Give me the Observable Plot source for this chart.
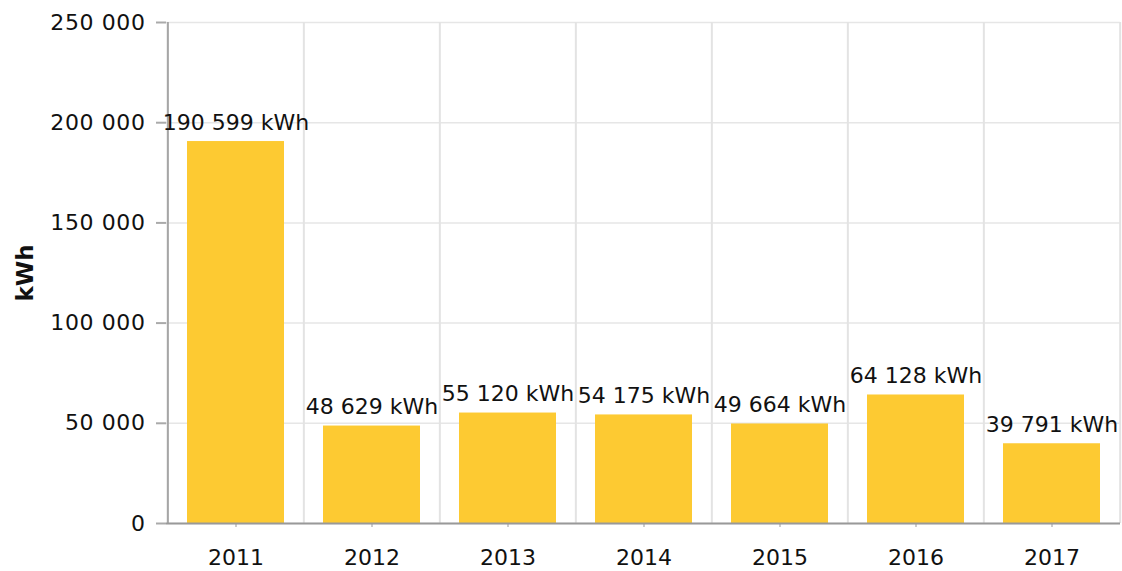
<!DOCTYPE html>
<html>
<head>
<meta charset="utf-8">
<script src="https://cdn.jsdelivr.net/npm/d3@7"></script>
<script src="https://cdn.jsdelivr.net/npm/@observablehq/plot@0.6"></script>
<style>
  html, body { margin: 0; padding: 0; background: #fff; }
  #chart svg { font-family: "DejaVu Sans", Verdana, sans-serif; }
  #chart g[aria-label="y-axis label"] text { font-weight: bold; font-size: 23px; }
  #chart g[aria-label="y-axis tick label"] text { letter-spacing: 0.6px; }
</style>
</head>
<body>
<div id="chart"></div>
<script>
const years = ["2011", "2012", "2013", "2014", "2015", "2016", "2017"];
const energy = [190599, 48629, 55120, 54175, 49664, 64128, 39791];
const yTicks = [0, 50000, 100000, 150000, 200000, 250000];
const unit = "kWh";

const data = years.map((year, i) => ({year, value: energy[i]}));
const fmt = v => d3.format(",")(v).replace(/,/g, " ");

const W = 1122, H = 571;
const mL = 166, mR = 2, mT = 22, mB = 48;
const step = (W - mL - mR) / years.length;

const chart = Plot.plot({
  width: W,
  height: H,
  marginLeft: mL,
  marginRight: mR,
  marginTop: mT,
  marginBottom: mB,
  style: {fontSize: "22px", fontFamily: "DejaVu Sans, Verdana, sans-serif", color: "#111", background: "#fff"},
  x: {domain: years, paddingInner: 0.29, paddingOuter: 0.145},
  y: {domain: [0, 250000]},
  marks: [
    Plot.gridY(yTicks, {stroke: "#e6e6e6", strokeOpacity: 1, strokeWidth: 1.5}),
    Plot.ruleX(years, {x: d => d, dx: -step / 2, stroke: "#e3e3e3", strokeWidth: 2}),
    Plot.ruleX(years.slice(-1), {x: d => d, dx: step / 2, stroke: "#e3e3e3", strokeWidth: 2}),
    Plot.ruleX(years.slice(0, 1), {x: d => d, dx: -step / 2, stroke: "#a6a6a6", strokeWidth: 2}),
    Plot.barY(data, {x: "year", y: "value", fill: "#fdca32"}),
    Plot.ruleY([0], {stroke: "#999", strokeWidth: 2}),
    Plot.axisY(yTicks, {
      tickSize: 10, tickPadding: 11, stroke: "#aaa", strokeWidth: 2,
      tickFormat: fmt, fontSize: 22,
      label: unit, labelAnchor: "center", labelArrow: "none", labelOffset: 150
    }),
    Plot.axisX({tickSize: 4, tickPadding: 22, stroke: "#999", label: null, fontSize: 22}),
    Plot.text(data, {x: "year", y: "value", text: d => `${fmt(d.value)} ${unit}`, dy: -19, fontSize: 22, fill: "#111"})
  ]
});
document.getElementById("chart").appendChild(chart);
</script>
</body>
</html>
